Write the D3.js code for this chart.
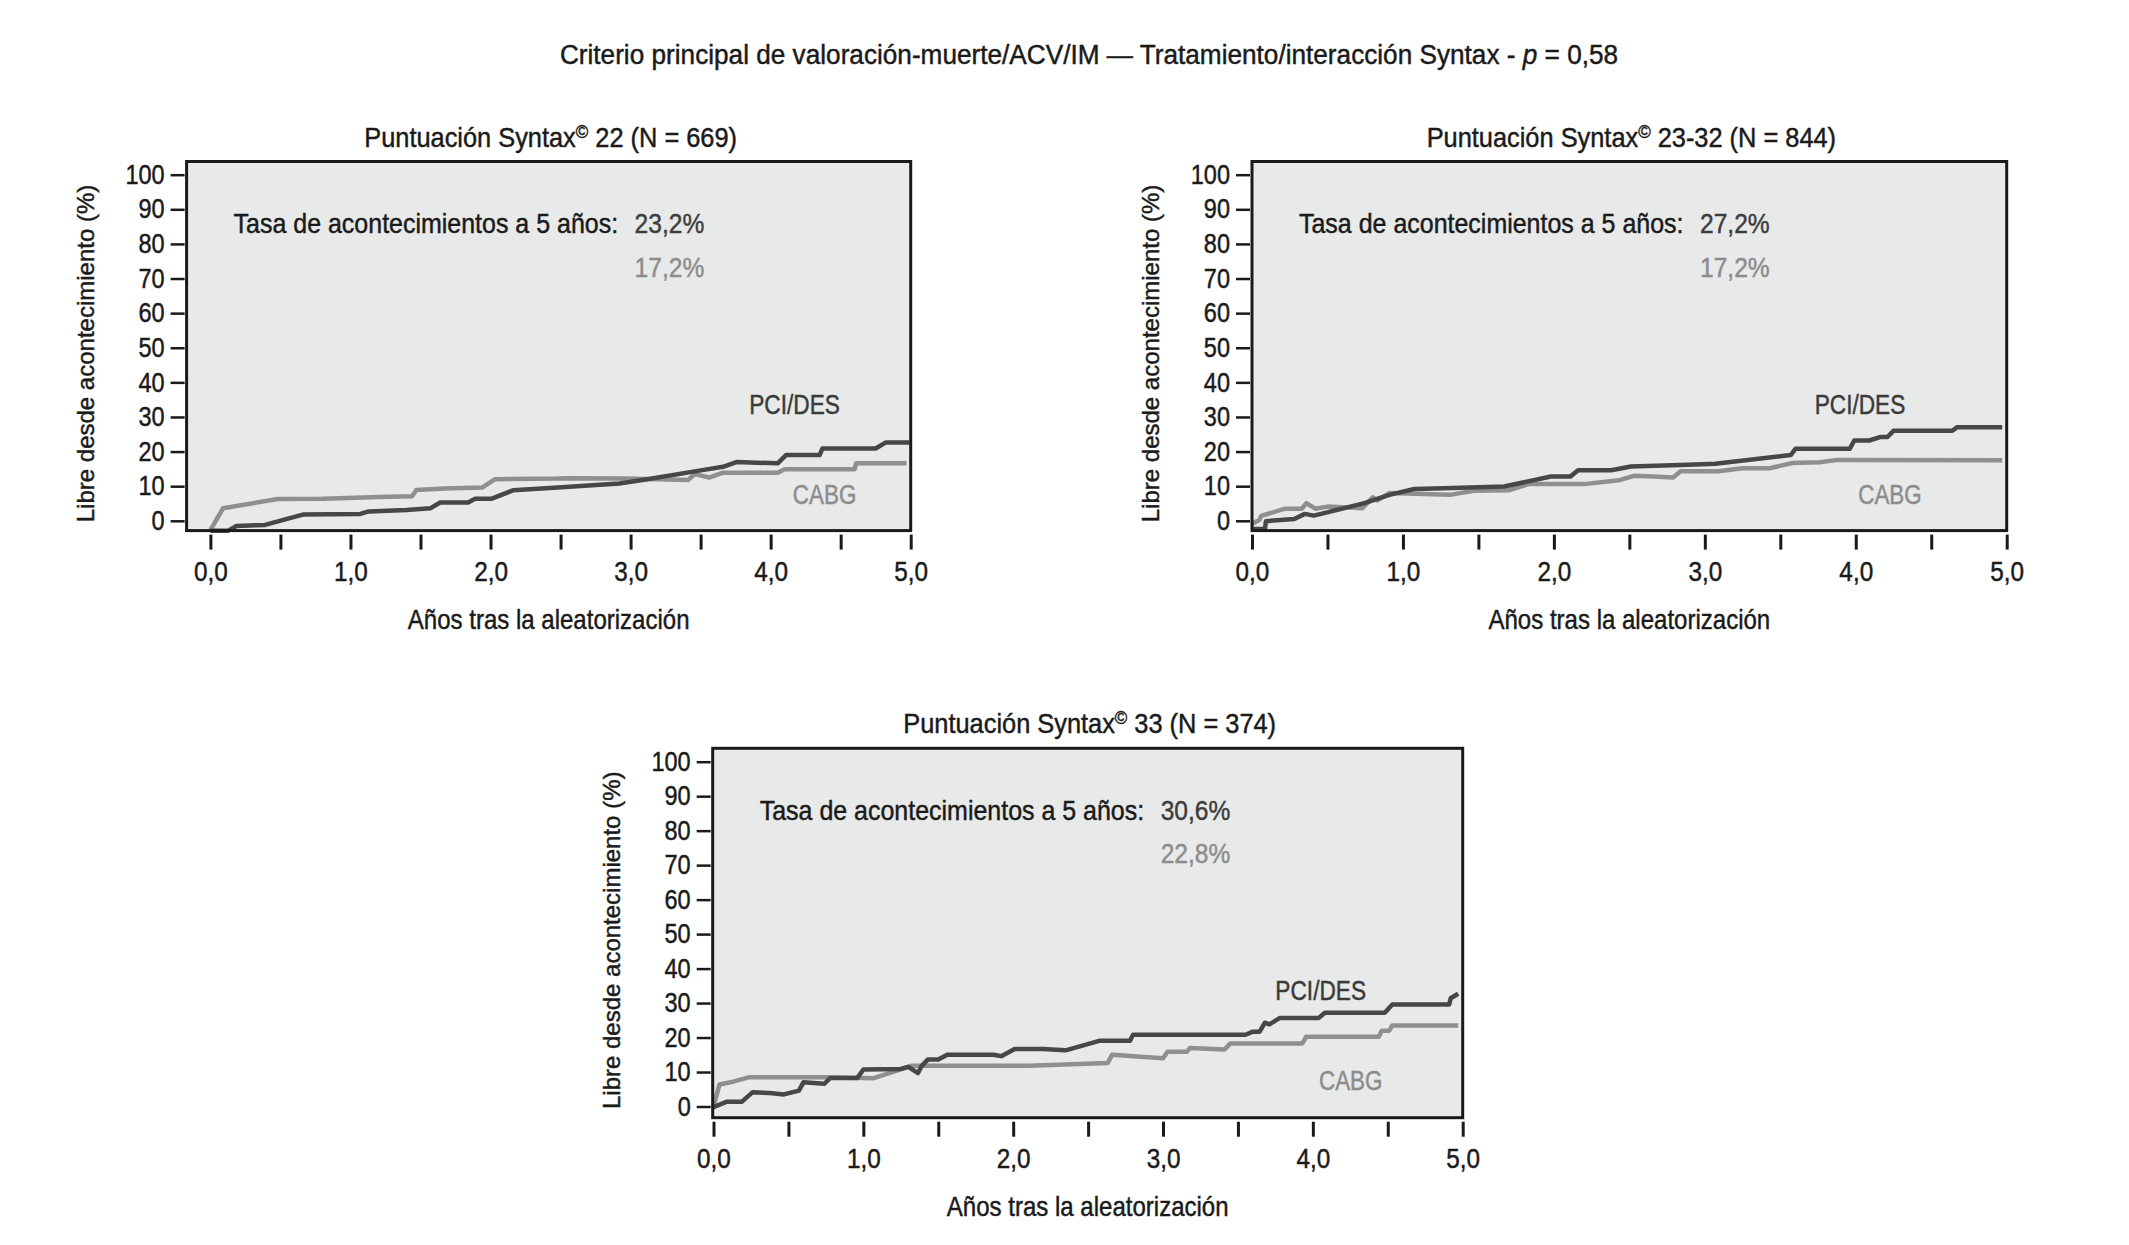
<!DOCTYPE html>
<html>
<head>
<meta charset="utf-8">
<script src="https://cdn.jsdelivr.net/npm/d3@7"></script>
<style>
  body { margin: 0; background: #fff; }
  text { font-family: "Liberation Sans", Arial, sans-serif; fill: #1c1c1c; }
  .heavy { stroke-width: 0.45px; }
</style>
</head>
<body>
<svg id="chart" width="2129" height="1245"></svg>
<script>
// DATA (years, % with event)

const mainTitle = "Criterio principal de valoración-muerte/ACV/IM — Tratamiento/interacción Syntax - ";
const mainP = "p = 0,58";

const panelNames = ["Puntuación Syntax", "Puntuación Syntax", "Puntuación Syntax"];
const panelSuffix = [" 22 (N = 669)", " 23-32 (N = 844)", " 33 (N = 374)"];
const rateLabel = "Tasa de acontecimientos a 5 años:";
const pciRates = ["23,2%", "27,2%", "30,6%"];
const cabgRates = ["17,2%", "17,2%", "22,8%"];
const seriesNames = ["PCI/DES", "CABG"];

const xTicks = [0, 0.5, 1, 1.5, 2, 2.5, 3, 3.5, 4, 4.5, 5];
const yTicks = [0, 10, 20, 30, 40, 50, 60, 70, 80, 90, 100];
const xLabel = "Años tras la aleatorización";
const yLabel = "Libre desde acontecimiento  (%)";

const pci22 = [[0, -2.9], [0.125, -2.9], [0.185, -1.5], [0.39, -1.2], [0.66, 1.8], [1.07, 2.0], [1.13, 2.7],
  [1.40, 3.1], [1.57, 3.6], [1.64, 5.3], [1.84, 5.3], [1.89, 6.4], [2.01, 6.4], [2.16, 8.8], [2.48, 9.6],
  [2.92, 10.8], [3.12, 12.0], [3.49, 14.5], [3.66, 15.6], [3.76, 17.0], [3.90, 16.8], [4.05, 16.6],
  [4.11, 19.0], [4.35, 19.0], [4.37, 20.9], [4.75, 20.9], [4.82, 22.6], [4.99, 22.6]];
const cabg22 = [[0, -2.7], [0.09, 3.6], [0.48, 6.3], [0.80, 6.4], [1.20, 6.9], [1.44, 7.1], [1.47, 8.9],
  [1.67, 9.3], [1.94, 9.6], [2.03, 12.0], [2.48, 12.2], [2.55, 12.3], [2.97, 12.2], [3.41, 11.8],
  [3.46, 13.5], [3.56, 12.5], [3.66, 13.9], [4.05, 13.9], [4.10, 14.9], [4.60, 14.9], [4.61, 16.6], [4.97, 16.6]];

const pci2332 = [[0, -2.4], [0.086, -2.4], [0.092, -0.1], [0.28, 0.5], [0.35, 2.0], [0.41, 1.5], [0.745, 5.1],
  [0.91, 7.5], [1.075, 9.2], [1.27, 9.4], [1.67, 9.9], [1.98, 12.8], [2.11, 12.8], [2.16, 14.6], [2.38, 14.6],
  [2.51, 15.7], [2.89, 16.2], [3.07, 16.5], [3.57, 19.0], [3.60, 20.8], [3.96, 20.8], [3.99, 23.2],
  [4.09, 23.2], [4.16, 24.2], [4.21, 24.2], [4.25, 26.0], [4.64, 26.0], [4.67, 27.0], [4.97, 27.0]];
const cabg2332 = [[0, -0.9], [0.05, 0.3], [0.06, 1.4], [0.22, 3.5], [0.33, 3.5], [0.36, 5.1], [0.42, 3.5],
  [0.50, 4.1], [0.73, 3.6], [0.80, 6.8], [0.83, 5.9], [0.91, 8.0], [1.31, 7.5], [1.47, 8.7], [1.70, 8.8],
  [1.83, 10.6], [2.20, 10.6], [2.43, 11.7], [2.53, 13.0], [2.66, 12.8], [2.79, 12.5], [2.84, 14.3],
  [3.09, 14.3], [3.25, 15.2], [3.43, 15.2], [3.58, 16.7], [3.76, 16.9], [3.88, 17.6], [4.97, 17.5]];

const pci33 = [[0, -0.2], [0.09, 1.4], [0.19, 1.4], [0.26, 4.1], [0.375, 3.9], [0.47, 3.5], [0.57, 4.6],
  [0.60, 7.0], [0.74, 6.6], [0.78, 8.3], [0.96, 8.3], [1.0, 10.7], [1.25, 10.9], [1.30, 11.5], [1.365, 9.7],
  [1.39, 11.8], [1.43, 13.6], [1.50, 13.6], [1.56, 15.0], [1.87, 15.0], [1.92, 14.6], [2.01, 16.7],
  [2.20, 16.7], [2.35, 16.3], [2.58, 19.1], [2.78, 19.1], [2.80, 20.8], [3.55, 20.8], [3.60, 21.7],
  [3.645, 21.7], [3.68, 24.3], [3.71, 23.8], [3.78, 25.7], [4.04, 25.7], [4.08, 27.2], [4.48, 27.2],
  [4.53, 29.6], [4.91, 29.6], [4.92, 31.4], [4.97, 32.7]];
const cabg33 = [[0, 0], [0.04, 6.4], [0.13, 7.2], [0.24, 8.5], [0.74, 8.5], [1.07, 8.2], [1.32, 11.8],
  [2.10, 11.8], [2.63, 12.6], [2.66, 15.0], [3.0, 14.0], [3.03, 15.9], [3.16, 15.9], [3.18, 17.0],
  [3.41, 16.5], [3.45, 18.3], [3.93, 18.3], [3.955, 20.2], [4.44, 20.2], [4.46, 22.0], [4.51, 22.0],
  [4.53, 23.5], [4.97, 23.5]];

const pciSeries = [pci22, pci2332, pci33];
const cabgSeries = [cabg22, cabg2332, cabg33];

// LAYOUT

const darkColor = "#474747";
const greyColor = "#8f8f8f";
const textColor = "#1a1a1a";

// frame box and the pixel span of the axes for each panel
const panels = [
  { left: 186.6, right: 910.7, top: 161.5, bottom: 530.6, x0: 210.4, x5: 910.7, y0: 520.8, y100: 174.7 },
  { left: 1252, right: 2006.7, top: 161.5, bottom: 530.6, x0: 1252, x5: 2006.7, y0: 520.8, y100: 174.7 },
  { left: 712.7, right: 1462.7, top: 748.3, bottom: 1117.7, x0: 713.5, x5: 1462.7, y0: 1106.5, y100: 761.7 }
];

// The figure uses a condensed face: Liberation Sans is squeezed horizontally
// with a transform around its anchor point.
function narrowText(parent, x, y, squeeze, size, color, anchor) {
  return parent.append("text")
    .attr("transform", `translate(${x},${y}) scale(${squeeze},1)`)
    .attr("text-anchor", anchor || "start")
    .attr("class", "heavy")
    .style("font-size", size + "px")
    .style("fill", color)
    .style("stroke", color);
}

// same idea for axis tick labels, which d3 already places
function condense(sel, squeeze) {
  sel.each(function () {
    const w = this.getComputedTextLength();
    if (w > 0) {
      this.setAttribute("textLength", w * squeeze);
      this.setAttribute("lengthAdjust", "spacingAndGlyphs");
    }
  });
}

const svg = d3.select("#chart");

// main title
const mt = narrowText(svg, 1089, 64, 0.97, 27, textColor, "middle");
mt.append("tspan").text(mainTitle);
mt.append("tspan").style("font-style", "italic").text("p");
mt.append("tspan").text(mainP.slice(1));

panels.forEach(function (p, i) {
  const g = svg.append("g");

  const x = d3.scaleLinear().domain([0, 5]).range([p.x0, p.x5]);
  const y = d3.scaleLinear().domain([0, 100]).range([p.y0, p.y100]);

  // plot background
  g.append("rect")
    .attr("x", p.left).attr("y", p.top)
    .attr("width", p.right - p.left).attr("height", p.bottom - p.top)
    .attr("fill", "#e8e9e9");

  // curves
  const line = d3.line().x(d => x(d[0])).y(d => y(d[1]));
  g.append("path").datum(cabgSeries[i])
    .attr("d", line).attr("fill", "none")
    .attr("stroke", greyColor).attr("stroke-width", 4.5)
    .attr("stroke-linejoin", "round");
  g.append("path").datum(pciSeries[i])
    .attr("d", line).attr("fill", "none")
    .attr("stroke", darkColor).attr("stroke-width", 4.5)
    .attr("stroke-linejoin", "round");

  // frame
  g.append("rect")
    .attr("x", p.left).attr("y", p.top)
    .attr("width", p.right - p.left).attr("height", p.bottom - p.top)
    .attr("fill", "none").attr("stroke", "#1a1a1a").attr("stroke-width", 3);

  // x axis (ticks hang under the frame, no domain line)
  const xAxis = g.append("g")
    .attr("transform", `translate(0,${p.bottom + 4})`)
    .call(d3.axisBottom(x).tickValues(xTicks).tickSize(15).tickPadding(12)
      .tickFormat(d => Number.isInteger(d) ? d3.format(".1f")(d).replace(".", ",") : ""));
  xAxis.select(".domain").remove();
  xAxis.selectAll("line").attr("stroke", "#1a1a1a").attr("stroke-width", 3);
  xAxis.selectAll("text").style("font-size", "27px").attr("font-family", null)
    .attr("class", "heavy").style("fill", textColor).style("stroke", textColor);
  condense(xAxis.selectAll("text"), 0.9);

  // y axis
  const yAxis = g.append("g")
    .attr("transform", `translate(${p.left - 2},0)`)
    .call(d3.axisLeft(y).tickValues(yTicks).tickSize(14).tickPadding(6));
  yAxis.select(".domain").remove();
  yAxis.selectAll("line").attr("stroke", "#1a1a1a").attr("stroke-width", 2.5);
  yAxis.selectAll("text").style("font-size", "27px").attr("font-family", null)
    .attr("class", "heavy").style("fill", textColor).style("stroke", textColor);
  condense(yAxis.selectAll("text"), 0.87);

  const cx = (p.left + p.right) / 2;

  // panel title with superscript ©
  const t = narrowText(g, cx + 2, p.top - 15, 0.94, 27, textColor, "middle");
  t.append("tspan").text(panelNames[i]);
  t.append("tspan").attr("dy", -9).style("font-size", "18px").text("©");
  t.append("tspan").attr("dy", 9).text(panelSuffix[i]);

  // axis titles
  narrowText(g, cx, p.bottom + 98, 0.89, 27, textColor, "middle").text(xLabel);

  g.append("text")
    .attr("transform", `translate(${p.left - 93},${p.top + 192}) rotate(-90)`)
    .attr("text-anchor", "middle")
    .attr("class", "heavy")
    .style("font-size", "24px")
    .style("stroke", textColor)
    .text(yLabel);

  // event rates
  narrowText(g, p.left + 47, p.top + 71.5, 0.925, 27, textColor).text(rateLabel);
  narrowText(g, p.left + 448, p.top + 71.5, 0.91, 27, "#3d3d3d").text(pciRates[i]);
  narrowText(g, p.left + 448, p.top + 115, 0.91, 27, "#8c8c8c").text(cabgRates[i]);

  // series labels
  narrowText(g, p.left + 608, p.top + 252, 0.84, 27, "#3a3a3a", "middle").text(seriesNames[0]);
  narrowText(g, p.left + 638, p.top + 342, 0.83, 27, "#8c8c8c", "middle").text(seriesNames[1]);
});
</script>
</body>
</html>
